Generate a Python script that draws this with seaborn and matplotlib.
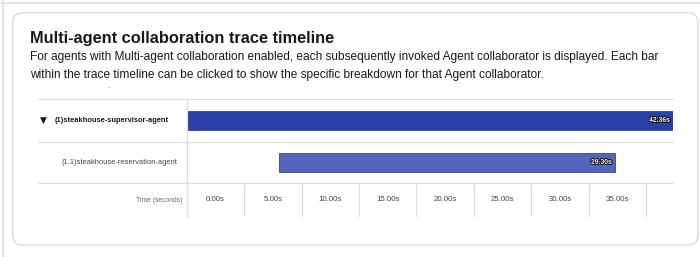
import matplotlib
matplotlib.use('Agg')
import matplotlib.pyplot as plt
import matplotlib.patheffects as pe
from matplotlib.patches import FancyBboxPatch
from matplotlib.lines import Line2D
import pandas as pd
import seaborn as sns

# ─────────────────────────── Данные ──────────────────────────────────────────

AGENTS = ['(1)steakhouse-supervisor-agent', '(1.1)steakhouse-reservation-agent']
STARTS = [0.0, 8.0]
DURATIONS = [42.36, 29.30]
BAR_COLORS = ['#2a40a6', '#5366bb']
TICK_VALUES = [0, 5, 10, 15, 20, 25, 30, 35]
TICK_LABELS = ['0.00s', '5.00s', '10.00s', '15.00s', '20.00s', '25.00s', '30.00s', '35.00s']

TITLE = 'Multi-agent collaboration trace timeline'
DESC_1 = ('For agents with Multi-agent collaboration enabled, each subsequently invoked '
          'Agent collaborator is displayed. Each bar')
DESC_2 = 'within the trace timeline can be clicked to show the specific breakdown for that Agent collaborator.'

W, H = 700, 257
SANS = ['Liberation Sans', 'DejaVu Sans']
LINE_C = '#dcdee2'
TEXT_C = '#16191f'


def fx(px):
    return px / W


def fy(py):
    return 1 - py / H


def box(x0, y0, x1, y1):
    return [fx(x0), fy(y1), fx(x1) - fx(x0), fy(y0) - fy(y1)]


sns.set_theme(style='white')
plt.rcParams['font.family'] = SANS

df = pd.DataFrame({'agent': AGENTS, 'start': STARTS, 'duration': DURATIONS})
x_max = max(s + d for s, d in zip(STARTS, DURATIONS))

fig = plt.figure(figsize=(W / 100, H / 100), dpi=100)
fig.patch.set_facecolor('white')

# карточка (координаты в дюймах, 1 дюйм = 100 px)
card = FancyBboxPatch((12.7 / 100, (H - 245) / 100), (698 - 12.7) / 100, (245 - 12.7) / 100,
                      boxstyle='round,pad=0,rounding_size=0.1', transform=fig.dpi_scale_trans,
                      facecolor='white', edgecolor='#d5d8dc', linewidth=0.9, zorder=-5)
fig.patches.append(card)
fig.add_artist(Line2D([0, 1], [fy(2.5), fy(2.5)], transform=fig.transFigure, color='#e4e6e8',
                      lw=1.5, zorder=-4))
fig.add_artist(Line2D([fx(2.5), fx(2.5)], [0, 1], transform=fig.transFigure, color='#e4e6e8',
                      lw=1.5, zorder=-4))

fig.text(fx(30), fy(42.7), TITLE, fontsize=11.8, fontweight='bold', color=TEXT_C, va='baseline')
fig.text(fx(30), fy(60.3), DESC_1, fontsize=8.55, color=TEXT_C, va='baseline')
fig.text(fx(30), fy(78.3), DESC_2, fontsize=8.55, color=TEXT_C, va='baseline')
fig.text(fx(109), fy(90), 'ˇ', fontsize=5, color='#9aa0a6', ha='center', va='center')

# ─────────────────────────── Полосы ──────────────────────────────────────────

ax = fig.add_axes(box(186.7, 99.3, 673.3, 183.3))
ax.patch.set_alpha(0)
for i, row in df.iterrows():
    sns.barplot(data=df.iloc[[i]], x='duration', y='agent', order=AGENTS, ax=ax,
                color=BAR_COLORS[i], saturation=1, width=0.45, left=row['start'],
                edgecolor='#1f2f80', linewidth=0.5)
    ax.text(row['start'] + row['duration'] - 0.3, i, f"{row['duration']:.2f}s",
            ha='right', va='center', fontsize=4.9, fontweight='bold', color='white',
            path_effects=[pe.withStroke(linewidth=1.4, foreground='#111111')])
ax.set_xlim(0, x_max)
ax.set_ylim(1.5, -0.5)
ax.set_axis_off()

# ─────────────────────────── Ось времени ─────────────────────────────────────

tax = fig.add_axes(box(186.7, 183.3, 673.3, 216.5))
tax.patch.set_alpha(0)
tax.set_xlim(0, x_max)
tax.set_ylim(0, 1)
tax.set_axis_off()
for v in TICK_VALUES + [TICK_VALUES[-1] + 5]:
    tax.axvline(v, color=LINE_C, lw=0.9)
for v, lab in zip(TICK_VALUES, TICK_LABELS):
    tax.text(v + 2.5, 0.5, lab, ha='center', va='center', fontsize=5.7, color='#414750')

# сетка таблицы
for yy in [99.3, 141.7, 183.3]:
    fig.add_artist(Line2D([fx(37.7), fx(673.3)], [fy(yy), fy(yy)], transform=fig.transFigure,
                          color=LINE_C, lw=0.9))
fig.add_artist(Line2D([fx(186.7), fx(186.7)], [fy(99.3), fy(216.5)], transform=fig.transFigure,
                      color=LINE_C, lw=0.9))

# подписи строк
fig.text(fx(43), fy(120.5), '▼', fontsize=6.5, color=TEXT_C, ha='center', va='center',
         family=['DejaVu Sans'])
fig.text(fx(54.3), fy(121), AGENTS[0], fontsize=5.4, fontweight='bold', color=TEXT_C,
         va='center')
fig.text(fx(177.3), fy(162.3), AGENTS[1], fontsize=5.4, color='#414750', ha='right', va='center')
fig.text(fx(182.5), fy(200.5), 'Time (seconds)', fontsize=4.9, color='#687078', ha='right',
         va='center')

fig.savefig('out.png', dpi=100, facecolor='white')
